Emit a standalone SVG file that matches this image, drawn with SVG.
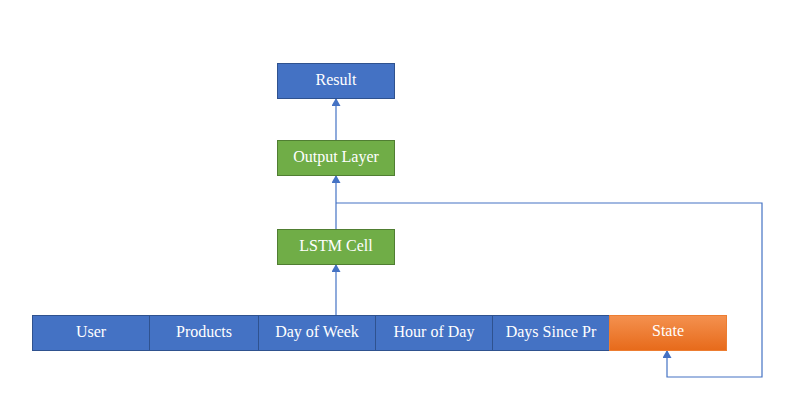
<svg xmlns="http://www.w3.org/2000/svg" width="788" height="405" viewBox="0 0 788 405">
<style>
text{font-family:"Liberation Serif","Times New Roman",serif;font-size:16px;fill:#fff;text-anchor:middle;dominant-baseline:central}
.blue{fill:#4472C4;stroke:#2F528F;stroke-width:1}
.green{fill:#70AD47;stroke:#507E32;stroke-width:1}
.orange{fill:url(#og);stroke:#ED7D31;stroke-width:1}
.conn{fill:none;stroke:#4472C4;stroke-width:1.2}
</style>
<defs>
<linearGradient id="og" x1="0" y1="0" x2="0" y2="1">
<stop offset="0" stop-color="#F4914F"/>
<stop offset="1" stop-color="#E76A1A"/>
</linearGradient>
<marker id="ah" markerWidth="8" markerHeight="9" refX="8" refY="4.5" orient="auto" markerUnits="userSpaceOnUse">
<path d="M0,0 L8,4.5 L0,9 Z" fill="#4472C4"/>
</marker>
</defs>
<rect width="788" height="405" fill="#fff"/>
<g id="connectors">
<line class="conn" x1="336" y1="140" x2="336" y2="98" marker-end="url(#ah)"/>
<line class="conn" x1="336" y1="229" x2="336" y2="175" marker-end="url(#ah)"/>
<line class="conn" x1="336" y1="315" x2="336" y2="264" marker-end="url(#ah)"/>
<path class="conn" d="M336,203 H762 V377 H667 V350" marker-end="url(#ah)" stroke="#7C9BD6"/>
</g>
<g id="result"><rect class="blue" x="277.5" y="63.5" width="117" height="35"/><text x="336" y="79.5">Result</text></g>
<g id="output-layer"><rect class="green" x="277.5" y="140.5" width="117" height="35"/><text x="336" y="156.5">Output Layer</text></g>
<g id="lstm-cell"><rect class="green" x="277.5" y="229.5" width="117" height="35"/><text x="336" y="245.5">LSTM Cell</text></g>
<g id="user"><rect class="blue" x="32.5" y="315.5" width="117" height="35"/><text x="91" y="331">User</text></g>
<g id="products"><rect class="blue" x="149.5" y="315.5" width="109" height="35"/><text x="204" y="331">Products</text></g>
<g id="day-of-week"><rect class="blue" x="258.5" y="315.5" width="117" height="35"/><text x="317" y="331">Day of Week</text></g>
<g id="hour-of-day"><rect class="blue" x="375.5" y="315.5" width="117" height="35"/><text x="434" y="331">Hour of Day</text></g>
<g id="days-since"><rect class="blue" x="492.5" y="315.5" width="117" height="35"/><text x="551" y="331">Days Since Pr</text></g>
<g id="state"><rect class="orange" x="609.5" y="315.5" width="117" height="35"/><text x="668" y="330">State</text></g>
</svg>
